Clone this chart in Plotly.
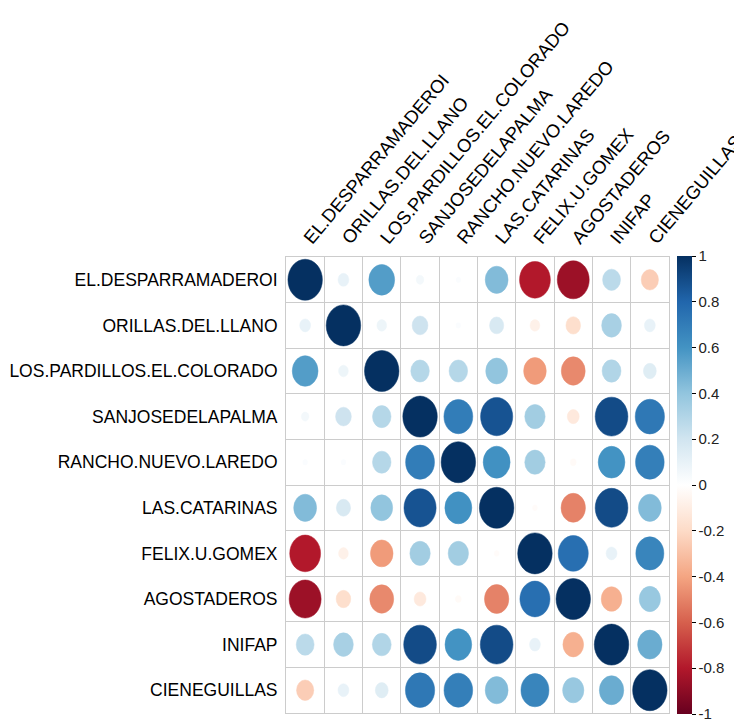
import numpy as np
import plotly.graph_objects as go
from plotly.colors import sample_colorscale

# Station names (same order on both axes)
stations = [
    "EL.DESPARRAMADEROI", "ORILLAS.DEL.LLANO", "LOS.PARDILLOS.EL.COLORADO",
    "SANJOSEDELAPALMA", "RANCHO.NUEVO.LAREDO", "LAS.CATARINAS",
    "FELIX.U.GOMEX", "AGOSTADEROS", "INIFAP", "CIENEGUILLAS",
]

# Correlation matrix, one row per station
corr = [
    [1.00, 0.10, 0.56, 0.05, 0.02, 0.44, -0.80, -0.86, 0.27, -0.25],
    [0.10, 1.00, 0.08, 0.21, 0.02, 0.17, -0.08, -0.18, 0.33, 0.10],
    [0.56, 0.08, 1.00, 0.29, 0.29, 0.40, -0.43, -0.48, 0.30, 0.14],
    [0.05, 0.21, 0.29, 1.00, 0.70, 0.87, 0.35, -0.12, 0.90, 0.72],
    [0.02, 0.02, 0.29, 0.70, 1.00, 0.61, 0.35, -0.03, 0.60, 0.69],
    [0.44, 0.17, 0.40, 0.87, 0.61, 1.00, -0.02, -0.50, 0.90, 0.44],
    [-0.80, -0.08, -0.43, 0.35, 0.35, -0.02, 1.00, 0.76, 0.10, 0.66],
    [-0.86, -0.18, -0.48, -0.12, -0.03, -0.50, 0.76, 1.00, -0.36, 0.38],
    [0.27, 0.33, 0.30, 0.90, 0.60, 0.90, 0.10, -0.36, 1.00, 0.50],
    [-0.25, 0.10, 0.14, 0.72, 0.69, 0.44, 0.66, 0.38, 0.50, 1.00],
]

# corrplot's RdBu palette, -1 -> 1
rdbu = ["#67001F", "#B2182B", "#D6604D", "#F4A582", "#FDDBC7", "#FFFFFF",
        "#D1E5F0", "#92C5DE", "#4393C3", "#2166AC", "#053061"]
cscale = [[i / (len(rdbu) - 1), c] for i, c in enumerate(rdbu)]

FONT = "Liberation Sans, Arial"
n = len(stations)
idx = list(range(1, n + 1))

shapes = []
xs, ys, vals, hov = [], [], [], []
for i in range(n):
    for j in range(n):
        r = corr[i][j]
        d = 0.9 * np.sqrt(abs(r))  # circle area ~ |r|, like corrplot
        col = sample_colorscale(cscale, (r + 1) / 2)[0]
        shapes.append(dict(
            type="circle", xref="x", yref="y",
            x0=j + 1 - d / 2, x1=j + 1 + d / 2,
            y0=i + 1 - d / 2, y1=i + 1 + d / 2,
            fillcolor=col, line=dict(color=col, width=0.5), layer="above",
        ))
        xs.append(j + 1)
        ys.append(i + 1)
        vals.append(r)
        hov.append(f"{stations[i]} / {stations[j]}<br>r = {r:.2f}")

fig = go.Figure(go.Scatter(
    x=xs, y=ys, mode="markers", text=hov,
    hovertemplate="%{text}<extra></extra>",
    marker=dict(
        size=30, opacity=0, color=vals, cmin=-1, cmax=1, colorscale=cscale,
        showscale=True,
        colorbar=dict(
            x=1.021, xanchor="left", xpad=0, y=0.5, yanchor="middle",
            len=1.004, ypad=0, thickness=15, outlinewidth=0,
            tickvals=[-1, -0.8, -0.6, -0.4, -0.2, 0, 0.2, 0.4, 0.6, 0.8, 1],
            ticktext=["-1", "-0.8", "-0.6", "-0.4", "-0.2", "0",
                      "0.2", "0.4", "0.6", "0.8", "1"],
            ticks="outside", ticklen=4, tickcolor="black",
            tickfont=dict(family=FONT, size=15, color="#222"),
        ),
    ),
))

grid = dict(tickmode="linear", tick0=0.5, dtick=1, showgrid=True,
            gridcolor="#CCCCCC", gridwidth=1, ticks="")

# page body adds an 8px offset, so margins are shifted to compensate
fig.update_layout(
    width=742, height=723,
    margin=dict(l=278, r=81, t=249, b=18, autoexpand=False),
    paper_bgcolor="white", plot_bgcolor="white",
    shapes=shapes, showlegend=False,
    xaxis=dict(
        range=[0.5, n + 0.5], side="top", tickmode="array", tickvals=idx,
        ticktext=stations, tickangle=-50, showgrid=False, zeroline=False,
        minor=grid, showline=True, mirror=True, linecolor="#CCCCCC",
        tickfont=dict(family=FONT, size=18.5, color="black"), fixedrange=True,
        automargin=False, ticklabeloverflow="allow",
    ),
    yaxis=dict(
        range=[n + 0.5, 0.5], tickmode="array", tickvals=idx,
        ticktext=stations, showgrid=False, zeroline=False,
        minor=grid, showline=True, mirror=True, linecolor="#CCCCCC",
        tickfont=dict(family=FONT, size=17.5, color="black"), ticklabelstandoff=4,
        fixedrange=True, automargin=False, ticklabeloverflow="allow",
    ),
)

fig.write_html("out.html")
